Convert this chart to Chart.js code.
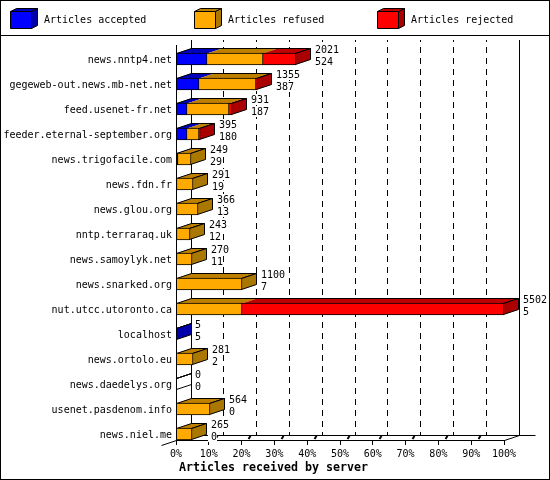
<!DOCTYPE html>
<html>
<head>
<meta charset="utf-8">
<title>Articles received by server</title>
<script src="https://cdn.jsdelivr.net/npm/chart.js@4"></script>
<style>
  html, body { margin: 0; padding: 0; background: #fff; }
  canvas { display: block; }
</style>
</head>
<body>
<canvas id="chart" width="550" height="480"></canvas>
<script>
// Valores
const servers = ['news.nntp4.net', 'gegeweb-out.news.mb-net.net', 'feed.usenet-fr.net', 'feeder.eternal-september.org',
  'news.trigofacile.com', 'news.fdn.fr', 'news.glou.org', 'nntp.terraraq.uk', 'news.samoylyk.net', 'news.snarked.org',
  'nut.utcc.utoronto.ca', 'localhost', 'news.ortolo.eu', 'news.daedelys.org', 'usenet.pasdenom.info', 'news.niel.me'];
const accepted = [524, 387, 187, 180, 29, 19, 13, 12, 11, 7, 5, 5, 2, 0, 0, 0];
const refused = [940, 955, 707, 200, 220, 272, 353, 231, 259, 1093, 1105, 0, 279, 0, 564, 265];
const rejected = [557, 13, 37, 15, 0, 0, 0, 0, 0, 0, 4392, 0, 0, 0, 0, 0];
const totals = [2021, 1355, 931, 395, 249, 291, 366, 243, 270, 1100, 5502, 5, 281, 0, 564, 265];
const tickLabels = ['0%', '10%', '20%', '30%', '40%', '50%', '60%', '70%', '80%', '90%', '100%'];
const maxArticles = 5502;
const seriesNames = ['Articles accepted', 'Articles refused', 'Articles rejected'];
const xTitle = 'Articles received by server';

const FONT = '"DejaVu Sans Mono", monospace';
const front = ['#0000FF', '#FFAA00', '#FF0000'];
const topFace = ['#0000BF', '#BF8000', '#BF0000'];
const sideFace = ['#0000AA', '#AA7700', '#AA0000'];
const DX = 15, DY = 5;

function poly(ctx, pts, fill, stroke) {
  ctx.beginPath();
  pts.forEach((p, i) => i ? ctx.lineTo(p[0], p[1]) : ctx.moveTo(p[0], p[1]));
  ctx.closePath();
  if (fill) { ctx.fillStyle = fill; ctx.fill(); }
  if (stroke) { ctx.strokeStyle = '#000'; ctx.lineWidth = 1; ctx.stroke(); }
}

function line(ctx, x1, y1, x2, y2) {
  ctx.beginPath();
  ctx.moveTo(x1, y1);
  ctx.lineTo(x2, y2);
  ctx.stroke();
}

function px(v) { return Math.floor(v) + 0.5; }

// Paredes, suelo y caras 3D de las barras
const depthPlugin = {
  id: 'depth',
  beforeDatasetsDraw(chart) {
    const ctx = chart.ctx;
    const xs = chart.scales.x;
    const area = chart.chartArea;
    const metas = [0, 1, 2].map(i => chart.getDatasetMeta(i));
    metas.forEach(m => m.data.forEach(el => { el.x = Math.round(el.x); el.base = Math.round(el.base); }));

    const floorFront = metas[0].data[servers.length - 1].y + 6;
    const floorBack = floorFront - DY;
    const wallTop = 40;

    ctx.save();
    ctx.strokeStyle = '#000';
    ctx.lineWidth = 1;
    xs.ticks.forEach((t, i) => {
      const fx = px(xs.getPixelForTick(i));
      const bx = px(xs.getPixelForTick(i) + DX);
      ctx.setLineDash(i === 0 || i === xs.ticks.length - 1 ? [] : [6, 5]);
      ctx.lineDashOffset = 4;
      line(ctx, bx, wallTop, bx, floorBack);
      ctx.setLineDash([]);
      line(ctx, fx, floorFront, fx, floorFront + 5);
      if (i > 0 && i < xs.ticks.length - 1) {
        ctx.lineWidth = 2;
        line(ctx, fx + 9, floorBack + 1, fx + 7, floorBack + 4);
        ctx.lineWidth = 1;
      }
    });
    const left = px(area.left), right = px(area.right);
    line(ctx, left + DX, floorBack + 0.5, right + DX + 16, floorBack + 0.5);
    line(ctx, left, floorFront + 0.5, right, floorFront + 0.5);
    line(ctx, right, floorFront + 0.5, right + DX, floorBack + 0.5);
    line(ctx, left, floorFront + 0.5, left - DX, floorFront + 5.5);

    servers.forEach((name, r) => {
      const first = metas[0].data[r];
      const yTop = first.y - 6 + 0.5, yBot = first.y + 6 - 0.5;
      const start = first.base;
      let end = start, last = -1;
      metas.forEach((m, s) => {
        const el = m.data[r];
        const val = [accepted, refused, rejected][s][r];
        if (!val) return;
        last = s;
        end = el.x;
        if (el.x > el.base) {
          poly(ctx, [[el.base, yTop], [el.base + DX, yTop - DY], [el.x + DX, yTop - DY], [el.x, yTop]], topFace[s]);
        }
      });
      const ex = Math.max(start, end - 1) + 0.5;
      const sx = start + 0.5;
      poly(ctx, [[sx, yTop], [sx + DX, yTop - DY], [ex + DX, yTop - DY], [ex, yTop]], null, true);
      poly(ctx, [[ex, yTop], [ex + DX, yTop - DY], [ex + DX, yBot - DY], [ex, yBot]], last >= 0 ? sideFace[last] : null, true);
    });
    ctx.restore();
  },
  afterDatasetsDraw(chart) {
    const ctx = chart.ctx;
    const area = chart.chartArea;
    const metas = [0, 1, 2].map(i => chart.getDatasetMeta(i));
    const floorFront = metas[0].data[servers.length - 1].y + 6;
    ctx.save();
    ctx.strokeStyle = '#000';
    ctx.lineWidth = 1;
    line(ctx, px(area.left), 45, px(area.left), floorFront);

    // Etiquetas de valores con fondo blanco
    ctx.font = '10px ' + FONT;
    ctx.textAlign = 'left';
    ctx.textBaseline = 'middle';
    servers.forEach((name, r) => {
      const y = metas[0].data[r].y;
      const end = Math.max(metas[0].data[r].x, metas[1].data[r].x, metas[2].data[r].x);
      const x = end + 19;
      [[totals[r], y - 9], [accepted[r], y + 3]].forEach(([txt, ty]) => {
        const w = ctx.measureText(String(txt)).width;
        ctx.fillStyle = '#fff';
        ctx.fillRect(end + DX + 1, ty - 6, x + w - end - DX - 1, 11);
        ctx.fillStyle = '#000';
        ctx.fillText(String(txt), x, ty);
      });
    });

    // Titulo del eje
    ctx.font = 'bold 11.65px ' + FONT;
    ctx.textAlign = 'center';
    ctx.fillText(xTitle, 273.5, 467.5);

    // Leyenda
    ctx.font = '10px ' + FONT;
    ctx.textAlign = 'left';
    seriesNames.forEach((label, i) => {
      const lx = 10 + i * 183.5;
      const a = Math.round(lx) + 0.5, b = a + 21, t = 11.5, d = 28.5;
      poly(ctx, [[a, t], [a + 6, t - 3], [b + 6, t - 3], [b, t]], topFace[i], true);
      poly(ctx, [[b, t], [b + 6, t - 3], [b + 6, d - 3], [b, d]], sideFace[i], true);
      poly(ctx, [[a, t], [b, t], [b, d], [a, d]], front[i], true);
      ctx.fillStyle = '#000';
      ctx.fillText(label, Math.round(lx) + 34, 20.5);
    });

    // Marco exterior y separador de la leyenda
    ctx.fillStyle = '#000';
    ctx.fillRect(0, 0, 550, 1);
    ctx.fillRect(0, 479, 550, 1);
    ctx.fillRect(0, 0, 1, 480);
    ctx.fillRect(549, 0, 1, 480);
    ctx.fillRect(0, 35, 550, 1);
    ctx.restore();
  }
};

const makeDataset = (label, data, i) => ({
  label,
  data,
  backgroundColor: front[i],
  borderColor: '#000',
  borderWidth: 1,
  borderSkipped: 'start',
  barThickness: 12
});

new Chart(document.getElementById('chart').getContext('2d'), {
  type: 'bar',
  data: {
    labels: servers,
    datasets: [
      makeDataset(seriesNames[0], accepted, 0),
      makeDataset(seriesNames[1], refused, 1),
      makeDataset(seriesNames[2], rejected, 2)
    ]
  },
  plugins: [depthPlugin],
  options: {
    indexAxis: 'y',
    responsive: false,
    animation: false,
    events: [],
    layout: { padding: { left: 0, right: 46, top: 46.5, bottom: 0 } },
    plugins: { legend: { display: false }, tooltip: { enabled: false }, title: { display: false } },
    scales: {
      x: {
        stacked: true,
        min: 0,
        max: maxArticles,
        grid: { display: false, drawTicks: false },
        border: { display: false },
        afterBuildTicks: scale => { scale.ticks = tickLabels.map((t, i) => ({ value: maxArticles * i / 10 })); },
        afterFit: scale => { scale.height = 33.5; },
        ticks: {
          autoSkip: false,
          maxRotation: 0,
          padding: 2,
          color: '#000',
          font: { family: FONT, size: 10 },
          callback: (value, index) => tickLabels[index]
        }
      },
      y: {
        stacked: true,
        grid: { display: false, drawTicks: false },
        border: { display: false },
        afterFit: scale => { scale.width = 176; },
        ticks: {
          autoSkip: false,
          padding: 4,
          labelOffset: 1,
          color: '#000',
          font: { family: FONT, size: 10 }
        }
      }
    }
  }
});
</script>
</body>
</html>
